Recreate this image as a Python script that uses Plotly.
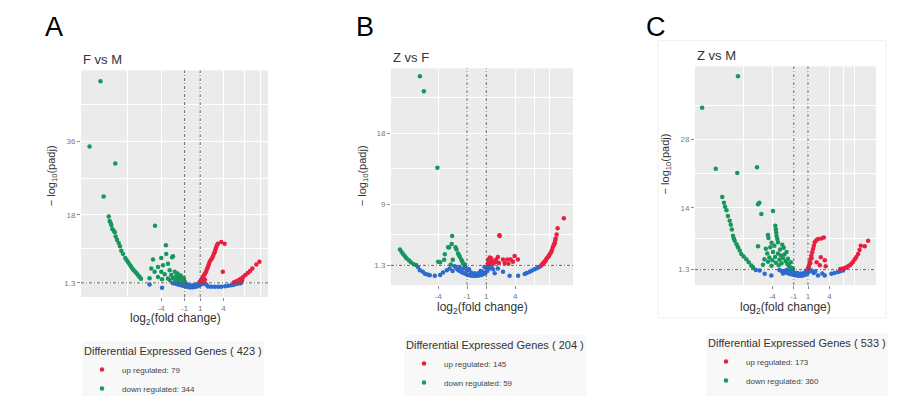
import plotly.graph_objects as go

W, H = 924, 396

# ---------------- data (log2 fold change, -log10 padj) ----------------
A_up_x = [0.92, 1.1, 1.25, 1.35, 1.5, 1.6, 1.77, 1.85, 1.99, 2.1, 2.2, 2.35, 2.5, 2.63, 2.75, 2.85, 2.95, 3.05, 3.15, 3.27,
          3.7, 4.13, 3.9, 1.2, 1.4, 1.6, 5.3, 5.6, 5.9, 6.2, 6.5, 6.8, 7.1, 7.4, 7.7, 8.2, 8.6, 5.5, 6.0, 6.4]
A_up_y = [1.5, 2.0, 2.4, 2.75, 3.2, 3.6, 4.0, 4.6, 5.2, 5.8, 6.4, 6.9, 7.3, 7.8, 8.4, 8.8, 9.4, 10.0, 10.5, 10.9,
          11.3, 10.9, 4.0, 1.8, 1.6, 2.1, 1.4, 1.6, 1.9, 2.3, 2.7, 3.2, 3.7, 4.2, 4.8, 5.8, 6.5, 1.5, 1.7, 2.0]
A_down_x = [-11.8, -13.2, -9.9, -11.4, -4.8, -3.4,
            -10.74, -10.62, -10.5, -10.41, -10.28, -10.1, -9.97, -9.85, -9.68, -9.46, -9.3, -9.13, -8.91, -8.62,
            -8.45, -8.27, -8.1, -7.92, -7.73, -7.54, -7.35, -7.15, -6.95, -6.77, -6.6,
            -5.06, -4.0, -3.36, -2.5, -2.6, -5.28, -4.42, -3.78, -3.14, -4.85, -4.0, -2.92, -2.28, -3.56, -2.72,
            -2.08, -1.64, -1.44, -1.22, -1.86, -2.5, -3.14, -4.42, -1.0, -1.3, -1.7, -2.2, -2.9, -3.9, -5.5,
            -1.1, -1.5, -1.9]
A_down_y = [50.8, 34.8, 30.6, 22.5, 15.3, 10.5,
            17.6, 16.5, 16.0, 15.5, 14.5, 14.1, 13.7, 12.7, 11.9, 11.1, 10.3, 9.2, 8.4, 7.4,
            6.9, 6.4, 5.9, 5.4, 4.9, 4.4, 4.0, 3.6, 3.1, 2.7, 2.3,
            7.0, 7.4, 8.4, 7.8, 7.6, 4.8, 5.2, 5.6, 6.0, 4.0, 4.0, 4.4, 4.0, 3.4, 3.2,
            3.0, 2.75, 2.35, 1.95, 2.2, 2.5, 2.35, 2.75, 1.7, 1.5, 1.6, 1.9, 2.0, 2.2, 2.4,
            2.5, 3.1, 3.6]
A_ns_x = [-5.5, -3.9, -2.5, -2.2, -2.0, -1.8, -1.6, -1.4, -1.2, -1.0, -0.8, -0.6, -0.4, -0.2, 0.0, 0.2, 0.4, 0.6,
          0.8, 1.0, 1.2, 1.4, -1.5, -1.0, -0.5, 0.0, 0.5, 0.9, -0.7, -0.3, 0.3, 0.7, -1.3, -0.9, 0.1, -0.1,
          1.6, 2.0, 2.4, 2.85, 3.3, 3.7, 4.2, 4.6, 5.0, 5.3, 5.6, 5.9, 6.2, 1.8]
A_ns_y = [0.9, 0.1, 1.2, 1.1, 1.0, 0.9, 0.8, 0.7, 0.6, 0.5, 0.4, 0.3, 0.2, 0.2, 0.2, 0.25, 0.3, 0.45,
          0.6, 0.8, 1.0, 1.2, 1.2, 1.1, 0.9, 0.7, 0.9, 1.2, 0.6, 0.5, 0.5, 0.8, 0.9, 0.8, 0.4, 0.3,
          1.1, 0.4, 0.3, 0.3, 0.3, 0.35, 0.45, 0.55, 0.7, 0.85, 1.0, 1.1, 1.2, 0.8]

B_up_x = [6.7, 6.9, 7.05, 7.2, 7.4, 7.55, 7.74, 7.9, 8.0, 8.1, 8.2, 8.4, 9.05, 7.3, 7.65, 7.8, 8.05, 8.15, 8.3,
          6.8, 7.0, 7.15, 7.5, 2.39, 2.35,
          1.18, 1.35, 1.3, 1.45, 1.6, 1.75, 1.9, 2.05, 2.2, 2.0, 1.5, 1.25, 1.4, 1.7, 2.73, 3.18, 3.53, 3.94,
          4.28, 3.77, 2.9, 3.3, 1.15, 2.3]
B_up_y = [1.3, 1.55, 1.75, 2.05, 2.35, 2.65, 3.0, 3.6, 3.85, 4.1, 4.7, 6.0, 7.25, 2.2, 2.8, 3.2, 4.0, 4.4, 5.2,
          1.45, 1.7, 1.9, 2.5, 5.0, 5.1,
          2.0, 2.3, 1.8, 1.9, 1.8, 1.75, 1.7, 1.8, 2.35, 2.0, 2.2, 1.6, 1.5, 1.5, 2.05, 2.05, 2.05, 2.5,
          2.05, 1.75, 1.6, 1.5, 1.5, 1.6]
B_down_x = [-5.9, -5.49, -4.08, -2.55,
            -7.97, -7.8, -7.63, -7.45, -7.29, -7.05, -6.83, -6.55, -6.3,
            -2.87, -3.31, -3.38, -4.0, -2.1, -1.93, -1.76, -1.59, -1.41, -1.24, -2.69, -2.48, -3.8, -2.97,
            -2.6, -2.2, -1.85, -1.5]
B_down_y = [25.2, 23.3, 13.65, 5.0,
            3.3, 3.0, 2.7, 2.45, 2.2, 1.95, 1.7, 1.45, 1.35,
            3.55, 2.7, 2.0, 1.75, 3.3, 2.8, 2.4, 2.0, 1.5, 1.4, 1.4, 2.0, 1.7, 3.6,
            4.0, 3.6, 2.6, 1.8]
B_ns_x = [-6.1, -5.9, -5.6, -5.38, -5.1, -4.87, -4.35, -3.8, -3.1, -3.5, -2.8, -2.5,
          -2.3, -2.1, -1.9, -1.7, -1.5, -1.3, -1.1, -0.9, -0.7, -0.5, -0.3, -0.1, 0.1, 0.3, 0.5, 0.7, 0.9,
          1.1, 1.3, 1.5, -1.8, -1.4, -1.0, -0.6, -0.2, 0.2, 0.6, 1.0, -1.2, -0.8, 0.4, 0.8, 1.2,
          1.87, 2.73, 3.42, 4.3, 4.98, 5.5, 6.0, 6.5, 2.2, 1.7, 5.2, 5.75, 6.25]
B_ns_y = [1.1, 0.7, 0.5, 0.25, 0.15, 0.05, 0.0, 0.1, 0.7, 0.4, 0.9, 0.6,
          1.2, 0.9, 0.7, 0.55, 0.4, 0.3, 0.2, 0.1, 0.05, 0.0, 0.0, 0.0, 0.0, 0.05, 0.1, 0.2, 0.35,
          0.6, 0.9, 1.2, 1.1, 0.9, 0.7, 0.4, 0.3, 0.3, 0.5, 0.9, 1.2, 0.8, 0.6, 1.1, 1.2,
          0.3, 0.5, 0.0, 0.0, 0.2, 0.5, 0.8, 1.1, 0.9, 0.8, 0.35, 0.65, 0.95]

C_up_x = [1.0, 1.12, 1.24, 1.35, 1.46, 1.58, 1.7, 1.82, 1.94, 2.15, 2.4, 2.86, 3.2, 1.1, 1.3, 1.5,
          2.78, 3.34, 3.47, 2.64, 2.2,
          6.13, 6.4, 6.6, 6.85, 7.06, 7.3, 7.53, 7.75, 8.0, 8.2, 8.37, 8.93, 9.4, 5.8, 5.5]
C_up_y = [1.5, 2.1, 2.8, 3.5, 4.2, 4.85, 5.5, 6.2, 6.9, 7.3, 7.6, 7.7, 7.9, 1.8, 2.6, 3.6,
          3.84, 3.2, 2.0, 2.2, 2.8,
          1.6, 1.8, 2.0, 2.2, 2.5, 2.9, 3.4, 3.9, 4.5, 5.3, 6.2, 6.1, 7.2, 1.45, 1.4]
C_down_x = [-8.79, -13.8, -11.9, -8.89, -6.13, -5.99, -5.8, -5.53, -3.9, -5.99,
            -10.99, -10.75, -10.6, -10.4, -10.2, -9.95, -9.8, -9.65, -9.49, -9.37, -9.25, -9.0, -8.79, -8.55,
            -8.33, -8.0, -7.63, -7.3, -6.93, -6.69,
            -3.57, -3.5, -3.45, -3.4, -3.3, -3.2, -4.6, -4.53, -4.27, -3.9, -4.7, -4.9, -4.4, -4.0, -3.6, -3.2,
            -2.9, -2.8, -2.5, -2.3, -2.1, -1.9, -1.7, -1.5, -1.3, -1.1, -2.7, -3.1, -3.5, -4.1, -4.6, -5.1,
            -2.4, -2.0, -1.8, -3.0, -2.6, -3.7, -4.1, -5.3, -1.4]
C_down_y = [41.0, 34.5, 22.0, 21.1, 22.3, 14.7, 15.0, 12.7, 13.3, 6.1,
            16.2, 15.0, 14.2, 13.5, 12.3, 11.3, 10.5, 9.5, 8.25, 7.7, 7.2, 6.5, 5.9, 5.2,
            4.5, 4.0, 3.4, 2.8, 2.15, 1.8,
            10.3, 9.6, 8.9, 8.2, 7.6, 6.9, 8.4, 7.8, 5.9, 4.9, 4.6, 5.6, 3.8, 3.2, 3.9, 4.6,
            5.4, 4.2, 3.6, 4.4, 3.0, 2.5, 2.1, 1.8, 1.6, 1.45, 2.6, 2.2, 2.7, 2.1, 2.9, 3.4,
            5.8, 4.9, 3.5, 3.3, 6.4, 6.2, 6.8, 2.3, 2.8]
C_ns_x = [-5.76, -5.06, -4.13, -6.3,
          -3.0, -2.7, -2.4, -2.1, -1.8, -1.5, -1.2, -0.9, -0.6, -0.3, 0.0, 0.3, 0.6, 0.9, 1.2, -2.0, -1.4,
          -1.0, -0.5, 0.0, 0.5, 0.8, -0.7, 0.2, -1.7, -2.5,
          1.5, 1.8, 2.4, 3.33, 4.26, 5.2, 5.9, 2.0, 3.0, 4.7, 5.5]
C_ns_y = [1.1, 0.45, 0.1, 1.2,
          1.2, 1.0, 0.9, 0.7, 0.55, 0.4, 0.3, 0.2, 0.1, 0.05, 0.05, 0.1, 0.25, 0.5, 0.9, 1.2, 1.0,
          0.8, 0.6, 0.5, 0.7, 1.1, 0.35, 0.3, 1.0, 0.5,
          1.1, 0.6, 0.1, 0.1, 0.45, 0.8, 1.1, 0.9, 0.5, 0.6, 0.95]

panel_letters = ["A", "B", "C"]
panel_titles = ["F vs M", "Z vs F", "Z vs M"]
deg_totals = [423, 204, 533]
up_counts = [79, 145, 173]
down_counts = [344, 59, 360]
y_ticks = [[1.3, 18, 36], [1.3, 9, 18], [1.3, 14, 28]]
x_ticks = [-4, -1, 1, 4]

# ---------------- style / layout ----------------
RED, GREEN, BLUE = "#E8203F", "#17965E", "#2C6BD0"
FONT = "Liberation Sans"

# positions in pixels
boxes = [(73, 260, 63, 292), (383, 565, 61, 280), (687, 868, 59, 280)]  # left, right, top, bottom
xranges = [[-14.3, 9.7], [-8.9, 10.0], [-14.8, 10.5]]
yranges = [[-2.2, 53.5], [-1.2, 26.2], [-1.9, 43.0]]
y_minor = [[9.65, 27, 45], [5.15, 13.5, 22.5], [7.65, 21, 35]]
x_minor = [[-8.3, 6.7, 8.8], [6.0, 7.6], [-8.0, 6.0, 7.5]]
letter_pos = [(46, 19), (357, 19), (648, 19)]
ytitle_pos = [(44, 170), (355, 170), (658, 158)]
xtitle_pos = [(167, 314), (474, 303), (777, 303)]
legend_pos = [(74, 336), (396, 330), (698, 328)]

data = [
    (A_up_x, A_up_y, A_down_x, A_down_y, A_ns_x, A_ns_y),
    (B_up_x, B_up_y, B_down_x, B_down_y, B_ns_x, B_ns_y),
    (C_up_x, C_up_y, C_down_x, C_down_y, C_ns_x, C_ns_y),
]

fig = go.Figure()
layout = dict(
    width=W, height=H, margin=dict(l=0, r=0, t=0, b=0),
    paper_bgcolor="white", plot_bgcolor="#EBEBEB",
    font=dict(family=FONT, color="#333333"),
    showlegend=True,
)
annotations = []
shapes = []

def px_x(p):
    return p / W

def px_y(p):
    return 1 - p / H

def note(text, x, y, size, color="#333333", angle=0, xanchor="center"):
    return dict(text=text, x=px_x(x), y=px_y(y), xref="paper", yref="paper",
                xanchor=xanchor, yanchor="middle", showarrow=False, textangle=angle,
                font=dict(size=size, color=color, family=FONT))

for i in range(3):
    sfx = "" if i == 0 else str(i + 1)
    xa, ya = "x" + sfx, "y" + sfx
    leg = "legend" + sfx
    upx, upy, dnx, dny, nsx, nsy = data[i]
    l, r, t, b = boxes[i]

    fig.add_trace(go.Scatter(x=nsx, y=nsy, mode="markers", xaxis=xa, yaxis=ya,
                             marker=dict(color=BLUE, size=4.5), showlegend=False, hoverinfo="skip"))
    fig.add_trace(go.Scatter(x=dnx, y=dny, mode="markers", xaxis=xa, yaxis=ya,
                             marker=dict(color=GREEN, size=4.5), legend=leg, legendrank=2,
                             name=f"down regulated: {down_counts[i]}"))
    fig.add_trace(go.Scatter(x=upx, y=upy, mode="markers", xaxis=xa, yaxis=ya,
                             marker=dict(color=RED, size=4.5), legend=leg, legendrank=1,
                             name=f"up regulated: {up_counts[i]}"))

    layout["xaxis" + sfx] = dict(
        domain=[px_x(l), px_x(r)], range=xranges[i], anchor=ya,
        tickvals=x_ticks, ticktext=[str(v) for v in x_ticks],
        ticks="outside", ticklen=3, tickcolor="#8a8a8a",
        tickfont=dict(size=8, color="#7a7a7a"),
        showgrid=True, gridcolor="white", gridwidth=1, zeroline=False, showline=False,
        minor=dict(tickvals=x_minor[i], showgrid=True, gridcolor="white", gridwidth=0.6, ticks=""),
    )
    layout["yaxis" + sfx] = dict(
        domain=[px_y(b), px_y(t)], range=yranges[i], anchor=xa,
        tickvals=y_ticks[i], ticktext=[str(v) for v in y_ticks[i]],
        ticks="outside", ticklen=3, tickcolor="#8a8a8a",
        tickfont=dict(size=8, color="#7a7a7a"),
        showgrid=True, gridcolor="white", gridwidth=1, zeroline=False, showline=False,
        minor=dict(tickvals=y_minor[i], showgrid=True, gridcolor="white", gridwidth=0.6, ticks=""),
    )

    dash = "3px,2px,1px,2px"
    for xv in (-1, 1):
        shapes.append(dict(type="line", xref=xa, yref=ya + " domain", x0=xv, x1=xv, y0=0, y1=1,
                           line=dict(color="#555555", width=0.9, dash=dash), layer="above"))
    shapes.append(dict(type="line", xref=xa + " domain", yref=ya, x0=0, x1=1, y0=1.3, y1=1.3,
                       line=dict(color="#555555", width=0.9, dash=dash), layer="above"))

    lx, ly = letter_pos[i]
    annotations.append(note(panel_letters[i], lx, ly, 27, color="black"))
    annotations.append(note(panel_titles[i], l, t - 11, 13, xanchor="left"))
    tx, ty = ytitle_pos[i]
    annotations.append(note("\u2212 log<sub>10</sub>(padj)", tx, ty, 11, angle=-90))
    tx, ty = xtitle_pos[i]
    annotations.append(note("log<sub>2</sub>(fold change)", tx, ty, 12))

    gx, gy = legend_pos[i]
    layout[leg] = dict(
        x=px_x(gx), y=px_y(gy), xanchor="left", yanchor="top",
        bgcolor="#F8F8F8", borderwidth=0,
        title=dict(text=f"Differential Expressed Genes ( {deg_totals[i]} )",
                   font=dict(size=11, color="#333333", family=FONT)),
        font=dict(size=8, color="#444444", family=FONT),
        tracegroupgap=0, traceorder="normal",
    )

shapes.append(dict(type="rect", xref="paper", yref="paper", x0=px_x(650), x1=px_x(878),
                   y0=px_y(313), y1=px_y(33), line=dict(color="#F0F0F0", width=1), layer="below"))

layout["annotations"] = annotations
layout["shapes"] = shapes
fig.update_layout(**layout)
fig.write_html("out.html")
